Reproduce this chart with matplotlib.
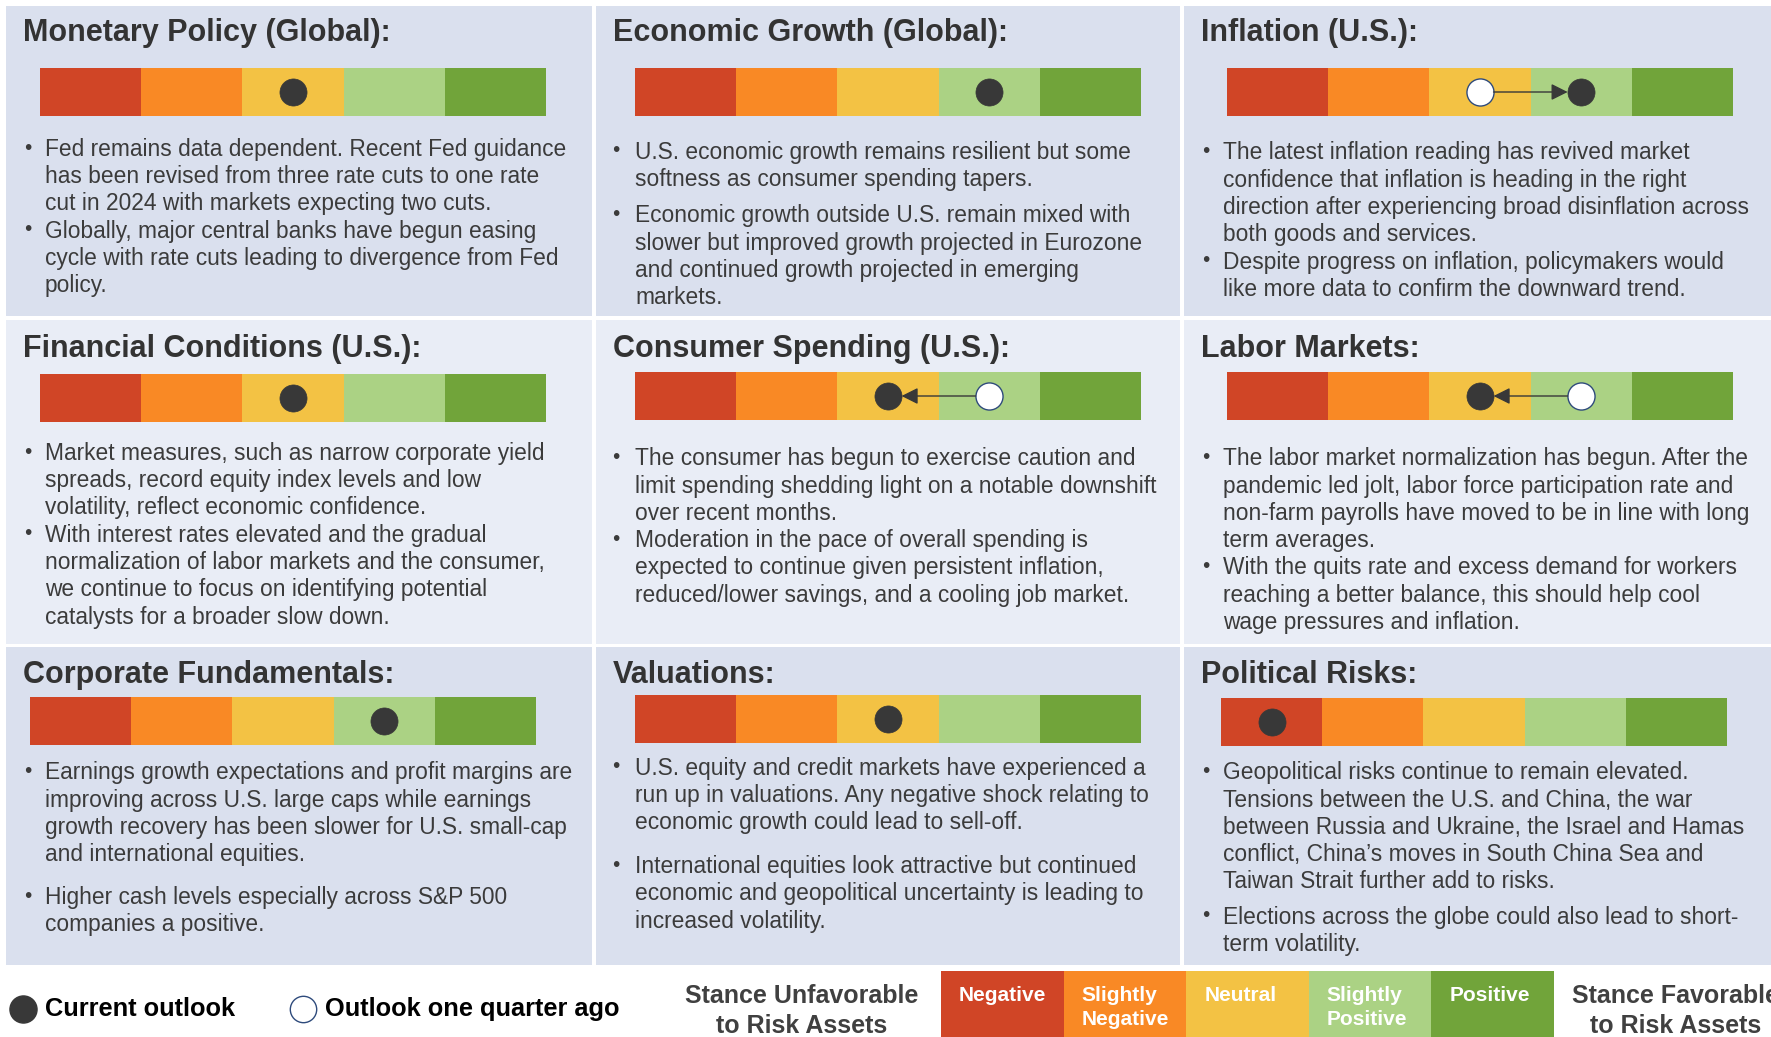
import matplotlib
matplotlib.use("Agg")
import matplotlib.pyplot as plt
from matplotlib.patches import Rectangle

plt.rcParams['font.family'] = ['Liberation Sans', 'DejaVu Sans']

# ---------------- data ----------------
stance_labels = ["Negative", "Slightly\nNegative", "Neutral", "Slightly\nPositive", "Positive"]
stance_colors = ["#D04526", "#F98925", "#F3C244", "#ABD284", "#71A43A"]

titles = ["Monetary Policy (Global):", "Economic Growth (Global):", "Inflation (U.S.):",
          "Financial Conditions (U.S.):", "Consumer Spending (U.S.):", "Labor Markets:",
          "Corporate Fundamentals:", "Valuations:", "Political Risks:"]
# stance index (0 = Negative ... 4 = Positive)
current_outlook = [2, 3, 3, 2, 2, 2, 3, 2, 0]
previous_outlook = [None, None, 2, None, 3, 3, None, None, None]

bullets = [
    [["Fed remains data dependent. Recent Fed guidance",
      "has been revised from three rate cuts to one rate",
      "cut in 2024 with markets expecting two cuts."],
     ["Globally, major central banks have begun easing",
      "cycle with rate cuts leading to divergence from Fed",
      "policy."]],
    [["U.S. economic growth remains resilient but some",
      "softness as consumer spending tapers."],
     ["Economic growth outside U.S. remain mixed with",
      "slower but improved growth projected in Eurozone",
      "and continued growth projected in emerging",
      "markets."]],
    [["The latest inflation reading has revived market",
      "confidence that inflation is heading in the right",
      "direction after experiencing broad disinflation across",
      "both goods and services."],
     ["Despite progress on inflation, policymakers would",
      "like more data to confirm the downward trend."]],
    [["Market measures, such as narrow corporate yield",
      "spreads, record equity index levels and low",
      "volatility, reflect economic confidence."],
     ["With interest rates elevated and the gradual",
      "normalization of labor markets and the consumer,",
      "we continue to focus on identifying potential",
      "catalysts for a broader slow down."]],
    [["The consumer has begun to exercise caution and",
      "limit spending shedding light on a notable downshift",
      "over recent months."],
     ["Moderation in the pace of overall spending is",
      "expected to continue given persistent inflation,",
      "reduced/lower savings, and a cooling job market."]],
    [["The labor market normalization has begun. After the",
      "pandemic led jolt, labor force participation rate and",
      "non-farm payrolls have moved to be in line with long",
      "term averages."],
     ["With the quits rate and excess demand for workers",
      "reaching a better balance, this should help cool",
      "wage pressures and inflation."]],
    [["Earnings growth expectations and profit margins are",
      "improving across U.S. large caps while earnings",
      "growth recovery has been slower for U.S. small-cap",
      "and international equities."],
     ["Higher cash levels especially across S&P 500",
      "companies a positive."]],
    [["U.S. equity and credit markets have experienced a",
      "run up in valuations. Any negative shock relating to",
      "economic growth could lead to sell-off."],
     ["International equities look attractive but continued",
      "economic and geopolitical uncertainty is leading to",
      "increased volatility."]],
    [["Geopolitical risks continue to remain elevated.",
      "Tensions between the U.S. and China, the war",
      "between Russia and Ukraine, the Israel and Hamas",
      "conflict, China\u2019s moves in South China Sea and",
      "Taiwan Strait further add to risks."],
     ["Elections across the globe could also lead to short-",
      "term volatility."]],
]

legend_labels = ["Current outlook", "Outlook one quarter ago"]
end_labels = ["Stance Unfavorable\nto Risk Assets", "Stance Favorable\nto Risk Assets"]

# ---------------- layout ----------------
W, H = 1771, 1037
fig = plt.figure(figsize=(W / 100, H / 100), dpi=100)
base = fig.add_axes([0, 0, 1, 1])
base.set_xlim(0, W)
base.set_ylim(H, 0)
base.axis('off')

col_x = [(6, 592), (596, 1180), (1184, 1771)]
row_y = [(6, 316), (320, 644), (647, 965)]
row_bg = ["#DAE0EE", "#E9EDF6", "#DAE0EE"]

bar_pos = [(40, 68), (635, 68), (1227, 68),
           (40, 374), (635, 372), (1227, 372),
           (30, 697), (635, 695), (1221, 698)]
bar_w, bar_h = 506, 48
title_base = [41, 357, 683]
title_dx = 17
bullet_x = [25, 613, 1203]
text_x = [45, 635, 1223]
first_line = [148, 151, 151.5, 452, 457.5, 457.5, 771.5, 767, 771.5]
bullet_gap = [0, 9, 0, 0, 0, 0, 15.5, 16.5, 8]
pitch = 27.3

text_color = "#3B3B3B"
dark = "#383838"
navy = "#2F4B7C"
MS = 19.5


def bar_axes(x0, y0, w, h):
    return fig.add_axes([x0 / W, 1 - (y0 + h) / H, w / W, h / H])


for r in range(3):
    for c in range(3):
        x0, x1 = col_x[c]
        y0, y1 = row_y[r]
        base.add_patch(Rectangle((x0, y0), x1 - x0, y1 - y0, facecolor=row_bg[r], edgecolor='none'))

for k in range(9):
    r, c = divmod(k, 3)
    base.text(col_x[c][0] + title_dx, title_base[r], titles[k], fontsize=22, fontweight='bold',
              color="#333333", va='baseline', ha='left')
    bx, by = bar_pos[k]
    ax = bar_axes(bx, by, bar_w, bar_h)
    ax.barh(0, [1] * 5, left=range(5), height=1, color=stance_colors, edgecolor='none')
    ax.set_xlim(0, 5)
    ax.set_ylim(-0.5, 0.5)
    ax.axis('off')
    cur = current_outlook[k] + 0.5
    prev = previous_outlook[k]
    if prev is not None:
        p = prev + 0.5
        ax.annotate("", xy=(cur, 0), xytext=(p, 0),
                    arrowprops=dict(arrowstyle='-|>,head_length=0.5,head_width=0.25',
                                    color=dark, lw=1.0, mutation_scale=20,
                                    shrinkA=MS / 2, shrinkB=MS / 2))
        ax.plot([p], [0], marker='o', ms=MS, mfc='white', mec=navy, mew=1.0, clip_on=False)
    ax.plot([cur], [0], marker='o', ms=MS, mfc=dark, mec=dark, mew=0.5, clip_on=False)

    y = first_line[k]
    for b in bullets[k]:
        base.text(bullet_x[c] - 1, y + 5.5, "\u2022", fontsize=15, color=text_color, va='baseline', ha='left')
        for line in b:
            base.text(text_x[c], y + 7.8, line, fontsize=16.4, color=text_color, va='baseline', ha='left')
            y += pitch
        y += bullet_gap[k]

# ---------------- bottom legend ----------------
base.plot([23], [1009], marker='o', ms=19.5, mfc=dark, mec=dark, clip_on=False)
base.text(45, 1009, legend_labels[0], fontsize=18.3, fontweight='bold', color='black', va='center', ha='left')
base.plot([303], [1009], marker='o', ms=19, mfc='white', mec=navy, mew=1.0, clip_on=False)
base.text(325, 1009, legend_labels[1], fontsize=18.3, fontweight='bold', color='black', va='center', ha='left')

base.text(802, 1011, end_labels[0], fontsize=18, fontweight='bold', color="#404040",
          va='center', ha='center', linespacing=1.3)
base.text(1676, 1011, end_labels[1], fontsize=18, fontweight='bold', color="#404040",
          va='center', ha='center', linespacing=1.3)

lx0, ly0, lw, lh = 941, 971, 613, 66
lax = bar_axes(lx0, ly0, lw, lh)
lax.barh(0, [1] * 5, left=range(5), height=1, color=stance_colors, edgecolor='none')
lax.set_xlim(0, 5)
lax.set_ylim(0.5, -0.5)
lax.axis('off')
for i, lab in enumerate(stance_labels):
    lines = lab.split("\n")
    for j, ln in enumerate(lines):
        # baselines at ~1000.7 and ~1025 px
        yb = -0.5 + (1000.7 - ly0 + j * 24.3) / lh
        lax.text(i + 18 / (lw / 5), yb, ln, fontsize=15, fontweight='bold', color='white',
                 va='baseline', ha='left')

fig.savefig("out.png", dpi=100)
